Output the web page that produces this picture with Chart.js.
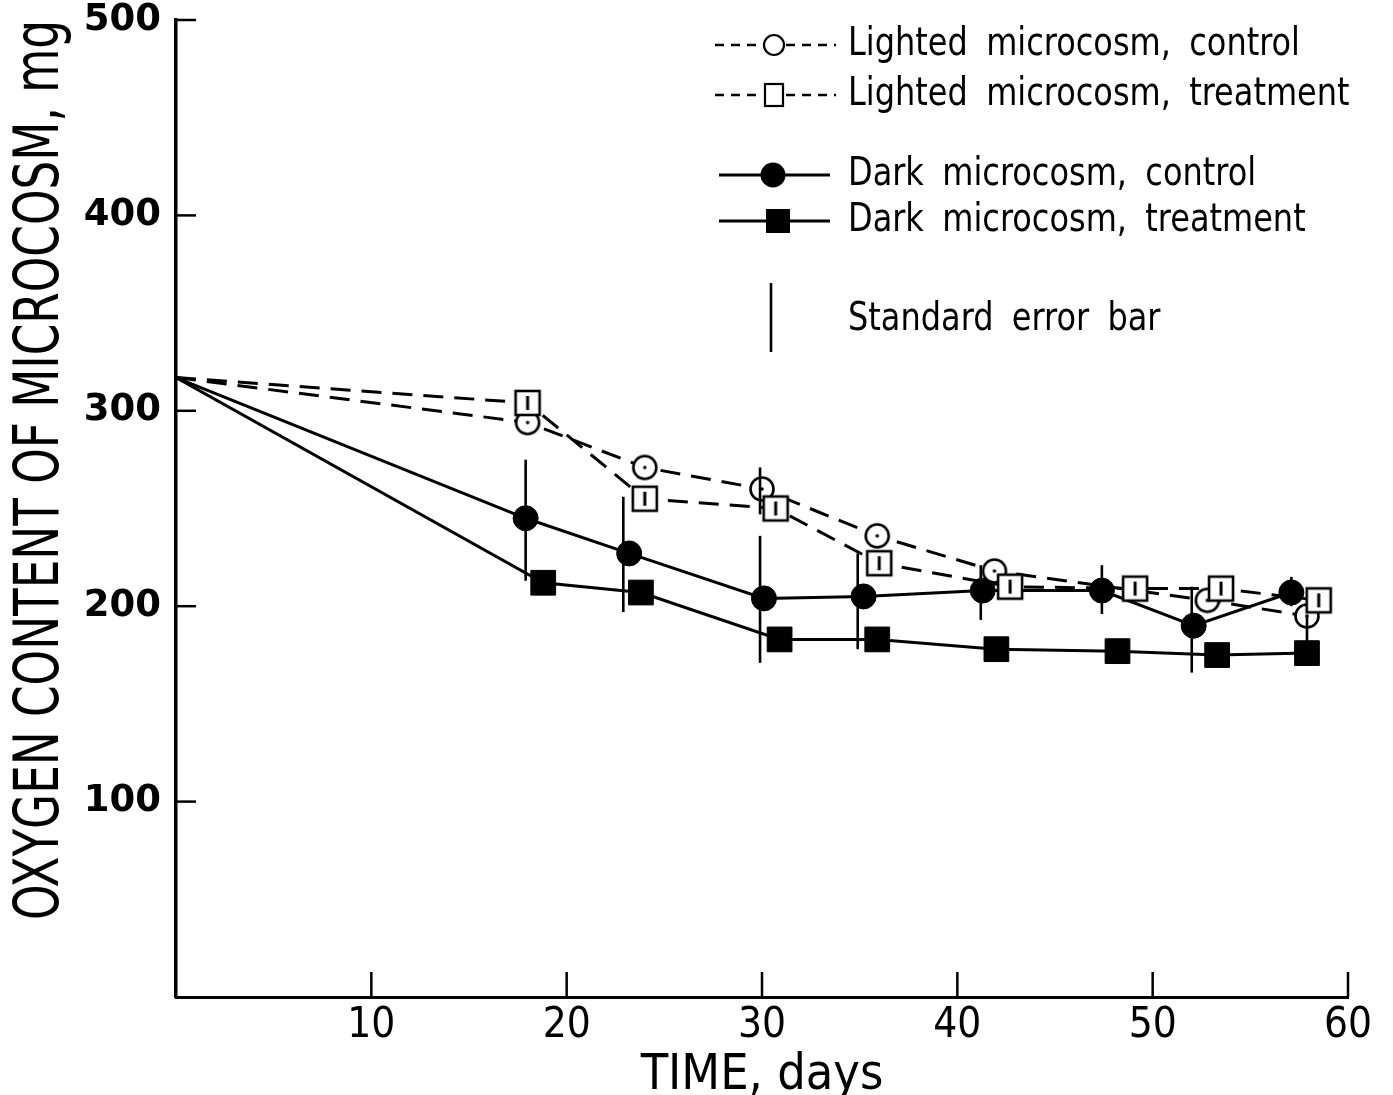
<!DOCTYPE html>
<html>
<head>
<meta charset="utf-8">
<script src="https://cdn.jsdelivr.net/npm/chart.js@4.4.0/dist/chart.umd.min.js"></script>
<style>
  body { margin: 0; background: #fff; }
  #chartContainer { width: 1393px; height: 1095px; position: relative; }
</style>
</head>
<body>
<div id="chartContainer"><canvas id="chartCanvas"></canvas></div>
<script>
// tick values
const xTicks = [10, 20, 30, 40, 50, 60];
const yTicks = [100, 200, 300, 400, 500];

// series (days, mg O2)
const lightCtrlDays = [0, 18.0, 24.0, 30.0, 35.9, 41.9, 52.8, 57.9];
const lightCtrlO2   = [317, 294, 271, 260, 236, 218, 203, 195];

const lightTreatDays = [0, 18.0, 24.0, 30.7, 36.0, 42.7, 49.1, 53.5, 58.5];
const lightTreatO2   = [317, 304, 255, 250, 222, 210, 209, 209, 203];

const darkCtrlDays = [0, 17.9, 23.2, 30.1, 35.2, 41.3, 47.4, 52.1, 57.1];
const darkCtrlO2   = [317, 245, 227, 204, 205, 208, 208, 190, 207];

const darkTreatDays = [0, 18.8, 23.8, 30.9, 35.9, 42.0, 48.2, 53.3, 57.9];
const darkTreatO2   = [317, 212, 207, 183, 183, 178, 177, 175, 176];

// standard error bars
const errDays = [17.9, 22.9, 29.9, 29.9, 34.9, 41.2, 47.4, 52.0, 57.1, 57.9];
const errLow  = [213, 197, 247, 171, 178, 193, 196, 166, 200, 182];
const errHigh = [275, 256, 271, 236, 227, 221, 221, 210, 215, 195];

const legendLabels = [
    "Lighted microcosm, control",
    "Lighted microcosm, treatment",
    "Dark microcosm, control",
    "Dark microcosm, treatment",
    "Standard error bar"
];
const yTitle = "OXYGEN CONTENT OF MICROCOSM, mg";
const xTitle = "TIME, days";

const narrow = '"Liberation Sans Narrow", "DejaVu Sans Condensed", sans-serif';

function toPoints(days, vals) {
    return days.map((d, i) => ({ x: d, y: vals[i] }));
}

// marker images
function openCircle() {
    const c = document.createElement("canvas");
    c.width = 30; c.height = 30;
    const g = c.getContext("2d");
    g.fillStyle = "#fff"; g.strokeStyle = "#000"; g.lineWidth = 2.6;
    g.beginPath(); g.arc(15, 15, 11.5, 0, Math.PI * 2); g.fill(); g.stroke();
    g.fillStyle = "#000";
    g.beginPath(); g.arc(15, 15, 1.8, 0, Math.PI * 2); g.fill();
    return c;
}

function openSquare() {
    const c = document.createElement("canvas");
    c.width = 30; c.height = 30;
    const g = c.getContext("2d");
    g.fillStyle = "#fff"; g.strokeStyle = "#000"; g.lineWidth = 2.6;
    g.fillRect(3, 3, 24, 24); g.strokeRect(3, 3, 24, 24);
    g.lineWidth = 3;
    g.beginPath(); g.moveTo(15, 8); g.lineTo(15, 22); g.stroke();
    return c;
}

// ticks pointing into the plot
const inwardTicks = {
    id: "inwardTicks",
    afterDraw(chart) {
        const { ctx, chartArea, scales: { x, y } } = chart;
        ctx.save();
        ctx.strokeStyle = "#000";
        ctx.lineWidth = 2.5;
        yTicks.forEach(v => {
            const py = y.getPixelForValue(v);
            ctx.beginPath(); ctx.moveTo(chartArea.left, py); ctx.lineTo(chartArea.left + 20, py); ctx.stroke();
        });
        xTicks.forEach(v => {
            const px = x.getPixelForValue(v);
            ctx.beginPath(); ctx.moveTo(px, chartArea.bottom); ctx.lineTo(px, chartArea.bottom - 25); ctx.stroke();
        });
        ctx.restore();
    }
};

const errorBars = {
    id: "errorBars",
    afterDatasetsDraw(chart) {
        const { ctx, scales: { x, y } } = chart;
        ctx.save();
        ctx.strokeStyle = "#000";
        ctx.lineWidth = 2.6;
        errDays.forEach((d, i) => {
            const px = x.getPixelForValue(d);
            ctx.beginPath();
            ctx.moveTo(px, y.getPixelForValue(errLow[i]));
            ctx.lineTo(px, y.getPixelForValue(errHigh[i]));
            ctx.stroke();
        });
        ctx.restore();
    }
};

// rotated y title, squeezed to the height of the original lettering
const yTitlePlugin = {
    id: "yTitlePlugin",
    afterDraw(chart) {
        const ctx = chart.ctx;
        ctx.save();
        ctx.fillStyle = "#000";
        ctx.font = "62px " + narrow;
        const w = ctx.measureText(yTitle).width;
        ctx.translate(58, 920);
        ctx.rotate(-Math.PI / 2);
        ctx.scale(900 / w, 1);
        ctx.textBaseline = "alphabetic";
        ctx.textAlign = "left";
        ctx.fillText(yTitle, 0, 0);
        ctx.restore();
    }
};

// legend box in the upper right
const sketchLegend = {
    id: "sketchLegend",
    afterDraw(chart) {
        const ctx = chart.ctx;
        const textX = 848;
        const rows = [45, 95, 175, 221, 320];
        ctx.save();
        ctx.strokeStyle = "#000";
        ctx.fillStyle = "#000";

        // dashed entries
        ctx.lineWidth = 2.6;
        ctx.setLineDash([9, 7]);
        [0, 1].forEach(i => {
            const yy = rows[i];
            ctx.beginPath(); ctx.moveTo(715, yy); ctx.lineTo(762, yy); ctx.stroke();
            ctx.beginPath(); ctx.moveTo(786, yy); ctx.lineTo(836, yy); ctx.stroke();
        });
        ctx.setLineDash([]);
        ctx.lineWidth = 2.2;
        ctx.beginPath(); ctx.arc(774, rows[0], 10, 0, Math.PI * 2); ctx.stroke();
        ctx.strokeRect(765, rows[1] - 11, 18, 22);

        // solid entries
        ctx.lineWidth = 2.8;
        [2, 3].forEach(i => {
            ctx.beginPath(); ctx.moveTo(719, rows[i]); ctx.lineTo(830, rows[i]); ctx.stroke();
        });
        ctx.beginPath(); ctx.arc(773, rows[2], 12.5, 0, Math.PI * 2); ctx.fill();
        ctx.fillRect(766, rows[3] - 12, 24, 24);

        // error bar sample
        ctx.lineWidth = 2.6;
        ctx.beginPath(); ctx.moveTo(771, 283); ctx.lineTo(771, 352); ctx.stroke();

        ctx.font = "39px " + narrow;
        ctx.wordSpacing = "9px";
        ctx.textBaseline = "middle";
        ctx.textAlign = "left";
        const sx = 452 / ctx.measureText(legendLabels[0]).width;
        legendLabels.forEach((t, i) => {
            ctx.save();
            ctx.translate(textX, rows[i]);
            ctx.scale(sx, 1);
            ctx.fillText(t, 0, 0);
            ctx.restore();
        });
        ctx.restore();
    }
};

const datasets = [
    {
        label: legendLabels[1],
        data: toPoints(lightTreatDays, lightTreatO2),
        borderColor: "#000",
        borderWidth: 3,
        borderDash: [20, 11],
        pointStyle: openSquare(),
    },
    {
        label: legendLabels[0],
        data: toPoints(lightCtrlDays, lightCtrlO2),
        borderColor: "#000",
        borderWidth: 3,
        borderDash: [20, 11],
        pointStyle: openCircle(),
    },
    {
        label: legendLabels[2],
        data: toPoints(darkCtrlDays, darkCtrlO2),
        borderColor: "#000",
        backgroundColor: "#000",
        borderWidth: 3,
        pointStyle: "circle",
        pointRadius: 12.5,
    },
    {
        label: legendLabels[3],
        data: toPoints(darkTreatDays, darkTreatO2),
        borderColor: "#000",
        backgroundColor: "#000",
        borderWidth: 3,
        pointStyle: "rect",
        pointRadius: 17.5,
    },
];

// no marker at day 0 (lines start on the axis)
datasets.forEach(ds => {
    const r = ds.pointRadius === undefined ? 10 : ds.pointRadius;
    ds.pointRadius = ctx => ctx.dataIndex === 0 ? 0 : r;
    ds.pointHoverRadius = ds.pointRadius;
    ds.pointBorderWidth = 1;
    ds.tension = 0;
});

new Chart(document.getElementById("chartCanvas").getContext("2d"), {
    type: "line",
    data: { datasets: datasets },
    plugins: [errorBars, inwardTicks, yTitlePlugin, sketchLegend],
    options: {
        responsive: true,
        maintainAspectRatio: false,
        animation: false,
        layout: { padding: { top: 20, right: 45, left: 0, bottom: 0 } },
        plugins: { legend: { display: false }, tooltip: { enabled: false } },
        scales: {
            x: {
                type: "linear",
                min: 0,
                max: 60,
                afterBuildTicks: s => { s.ticks = xTicks.map(v => ({ value: v })); },
                afterFit: s => { s.height = 98; s.paddingLeft = 0; s.paddingRight = 0; },
                grid: { display: false, drawTicks: false },
                border: { display: true, width: 3, color: "#000" },
                ticks: { padding: 4, color: "#000", font: { family: narrow, size: 42 } },
                title: {
                    display: true,
                    text: xTitle,
                    color: "#000",
                    padding: 0,
                    font: { family: narrow, size: 50, lineHeight: 0.75 },
                },
            },
            y: {
                min: 0,
                max: 500,
                afterBuildTicks: s => { s.ticks = yTicks.map(v => ({ value: v })); },
                afterFit: s => { s.width = 176; s.paddingTop = 0; s.paddingBottom = 0; },
                grid: { display: false, drawTicks: false },
                border: { display: true, width: 3.5, color: "#000" },
                ticks: { padding: 15, color: "#000", font: { family: "DejaVu Sans", size: 37, weight: "bold" } },
                title: { display: false },
            },
        },
    },
});
</script>
</body>
</html>
